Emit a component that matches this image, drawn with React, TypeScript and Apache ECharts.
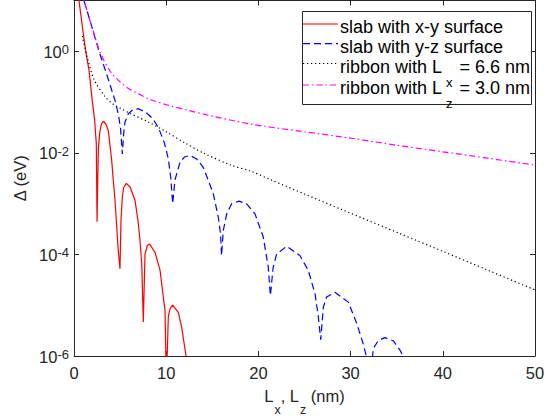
import React, { useEffect, useRef } from "react";
import * as echarts from "echarts";

// slab with x-y surface (L in nm, gap in eV)
const XY_L = [0.4, 0.54, 1.01, 1.27, 1.63, 1.98, 2.24, 2.42, 2.5, 2.58, 2.65, 2.82, 3.0, 3.18, 3.45, 3.72, 4.09, 4.26, 4.45, 4.8, 4.99, 5.1, 5.25, 5.4, 5.68, 6.1, 6.62, 6.95, 7.16, 7.35, 7.52, 7.7, 7.95, 8.2, 8.79, 9.33, 9.69, 9.87, 10.02, 10.23, 10.41, 10.7, 11.31, 11.68, 12.15, 12.4];
const XY_D = [16, 10, 2.2, 1.0, 0.42, 0.107, 0.044, 0.015, 4.4e-4, 3.2e-3, 0.0126, 0.0275, 0.038, 0.042, 0.037, 0.0275, 7.1e-3, 2.9e-3, 1.15e-3, 1.2e-4, 5.2e-5, 5.0e-4, 1.4e-3, 2.1e-3, 2.5e-3, 2.1e-3, 1.15e-3, 4.5e-4, 1.9e-4, 6.3e-5, 4.7e-6, 1.0e-4, 1.5e-4, 1.6e-4, 1.1e-4, 4.9e-5, 1.45e-5, 7.9e-6, 3e-7, 5.9e-6, 8.5e-6, 1.0e-5, 7.2e-6, 3.7e-6, 1.0e-6, 2.5e-7];

// slab with y-z surface
const YZ_L = [0.9, 1.08, 1.74, 2.71, 3.6, 4.45, 4.8, 5.05, 5.24, 5.4, 5.53, 5.89, 6.4, 6.98, 7.8, 8.5, 9.14, 9.8, 10.23, 10.5, 10.7, 10.95, 11.5, 12.0, 12.58, 13.3, 14.02, 15.1, 15.65, 15.9, 16.0, 16.2, 16.56, 17.1, 17.9, 18.7, 19.63, 20.53, 21.07, 21.3, 21.6, 21.98, 23.07, 24.5, 25.4, 26.14, 26.5, 26.76, 27.04, 27.4, 28.3, 29.75, 30.66, 31.38, 31.7, 32.05, 32.46, 33.0, 33.7, 34.63, 35.36, 35.7, 36.1];
const YZ_D = [16, 10, 4.0, 1.0, 0.33, 0.107, 0.059, 0.03, 9.5e-3, 0.025, 0.04, 0.059, 0.071, 0.074, 0.063, 0.048, 0.032, 0.0158, 7.6e-3, 3.2e-3, 1.0e-3, 2.9e-3, 6.6e-3, 8.3e-3, 8.9e-3, 7.6e-3, 5.2e-3, 1.6e-3, 5.4e-4, 2.5e-4, 9.5e-5, 3.0e-4, 6.3e-4, 1.0e-3, 1.12e-3, 1.0e-3, 6.3e-4, 2.2e-4, 5.6e-5, 1.55e-5, 5.6e-5, 1.02e-4, 1.45e-4, 9.5e-5, 4.9e-5, 1.7e-5, 5.9e-6, 2.1e-6, 9.1e-6, 1.45e-5, 1.8e-5, 1.15e-5, 4.4e-6, 1.7e-6, 1.0e-6, 2e-7, 1.4e-6, 2.0e-6, 2.3e-6, 2.0e-6, 1.3e-6, 1.0e-6, 4e-7];

// ribbon with Lx = 6.6 nm
const RX_L = [0.9, 1.44, 2.17, 3.4, 4.26, 5.0, 6.15, 8.0, 10.05, 12.0, 14.0, 17.0, 19.1, 21.44, 25.0, 28.85, 35.36, 40.0, 45.0, 50.0];
const RX_D = [2.0, 0.76, 0.28, 0.126, 0.091, 0.076, 0.059, 0.041, 0.0257, 0.0158, 0.01, 5.75e-3, 4.4e-3, 2.9e-3, 1.55e-3, 7.9e-4, 2.57e-4, 1.15e-4, 4.8e-5, 2.0e-5];

// ribbon with Lz = 3.0 nm
const RZ_L = [0.8, 1.08, 2.17, 2.9, 3.98, 5.0, 6.0, 7.0, 8.4, 10.4, 12.5, 14.4, 19.1, 25, 30, 35, 40, 45, 50];
const RZ_D = [15, 10, 2.2, 0.89, 0.39, 0.25, 0.18, 0.145, 0.11, 0.085, 0.068, 0.056, 0.037, 0.026, 0.0195, 0.0141, 0.0105, 7.8e-3, 5.75e-3];

const SERIES_NAMES = ["slab with x-y surface", "slab with y-z surface", "ribbon with L_x = 6.6 nm", "ribbon with L_z = 3.0 nm"];
const X_TICKS = [0, 10, 20, 30, 40, 50];

const FONT = "'Liberation Sans', Arial, Helvetica, sans-serif";
const AX = "#262626";

const zip = (a: number[], b: number[]) => a.map((v, i) => [v, b[i]]);

export default function App() {
  const ref = useRef<HTMLDivElement>(null);
  useEffect(() => {
    if (!ref.current) return;
    const chart = echarts.init(ref.current, undefined, { renderer: "svg" });
    const colors = ["#ff0000", "#0000ff", "#000000", "#ff00ff"];
    const dashes: any[] = ["solid", [7, 4], [1.2, 2.8], [6, 3, 1.5, 3]];
    const smooths = [false, false, 0.3, 0.3];
    const datasets = [zip(XY_L, XY_D), zip(YZ_L, YZ_D), zip(RX_L, RX_D), zip(RZ_L, RZ_D)];
    const legendRows = [24, 43.7, 63.5, 85];
    const legendTexts = [
      "{n|slab with x-y surface}",
      "{n|slab with y-z surface}",
      "{n|ribbon with L}{s|x}{n| = 6.6 nm}",
      "{n|ribbon with L}{s|z}{n| = 3.0 nm}",
    ];
    const legRich = {
      n: { fontSize: 18, fontFamily: FONT, lineHeight: 18, verticalAlign: "top", color: "#000" },
      s: { fontSize: 13, fontFamily: FONT, lineHeight: 31, verticalAlign: "bottom", color: "#000", padding: [0, 2, 0, 4] },
    };
    const graphic: any[] = [
      {
        type: "rect",
        z: 100,
        shape: { x: 302.5, y: 11.5, width: 229, height: 93 },
        style: { fill: "#fff", stroke: AX, lineWidth: 1 },
      },
    ];
    legendRows.forEach((y, i) => {
      graphic.push({
        type: "line",
        z: 101,
        shape: { x1: 303, y1: y, x2: 338, y2: y },
        style: { stroke: colors[i], lineWidth: 1.2, lineDash: dashes[i] === "solid" ? null : dashes[i] },
      });
      graphic.push({
        type: "text",
        z: 101,
        x: 340,
        y: y - 6,
        style: { text: legendTexts[i], rich: legRich, align: "left", verticalAlign: "top", fill: "#000" },
      });
    });

    const yLabelRich = {
      b: { fontSize: 16.5, fontFamily: FONT, lineHeight: 24, verticalAlign: "top", color: AX },
      s: { fontSize: 13, fontFamily: FONT, lineHeight: 12, verticalAlign: "top", color: AX },
    };
    const yFmt = (v: number) => {
      const e = Math.round(Math.log10(v));
      return `{b|10}{s|${e}}`;
    };
    const commonX = {
      type: "value",
      min: 0,
      max: 50,
      interval: 10,
      splitLine: { show: false },
      axisLine: { show: true, onZero: false, lineStyle: { color: AX, width: 1 } },
      axisTick: { show: true, inside: true, length: 5, lineStyle: { color: AX } },
    };
    const commonY = {
      type: "log",
      logBase: 10,
      min: 1e-6,
      max: 10,
      interval: 2,
      splitLine: { show: false },
      minorTick: { show: false },
      axisLine: { show: true, onZero: false, lineStyle: { color: AX, width: 1 } },
      axisTick: { show: true, inside: true, length: 5, lineStyle: { color: AX } },
    };
    chart.setOption({
      animation: false,
      backgroundColor: "#fff",
      grid: { left: 74, right: 19, top: 0.5, bottom: 60, containLabel: false, outerBoundsMode: "none" },
      xAxis: [
        {
          ...commonX,
          position: "bottom",
          axisLabel: {
            color: AX,
            fontSize: 16.5,
            fontFamily: FONT,
            margin: 8,
            showMinLabel: true,
            showMaxLabel: true,
            formatter: (v: number) => (X_TICKS.includes(v) ? String(v) : ""),
          },
          name: "{n|L}{s|x}{n|, L}{s|z}{n| (nm)}",
          nameLocation: "middle",
          nameGap: 31,
          nameTextStyle: {
            rich: {
              n: { fontSize: 16.5, fontFamily: FONT, lineHeight: 16, verticalAlign: "top", color: AX },
              s: { fontSize: 12.5, fontFamily: FONT, lineHeight: 29, verticalAlign: "bottom", color: AX, padding: [0, 0, 0, 1] },
            },
          },
        },
        { ...commonX, position: "top", axisLabel: { show: false } },
      ],
      yAxis: [
        {
          ...commonY,
          position: "left",
          axisLabel: {
            color: AX,
            margin: 5,
            formatter: yFmt,
            rich: yLabelRich,
            padding: [8, 0, 0, 0],
            showMaxLabel: false,
          },
          name: "Δ (eV)",
          nameLocation: "middle",
          nameGap: 29,
          nameTextStyle: { fontSize: 16.5, fontFamily: FONT, color: AX },
        },
        { ...commonY, position: "right", axisLabel: { show: false } },
      ],
      series: datasets.map((d, i) => ({
        name: SERIES_NAMES[i],
        type: "line",
        data: d,
        xAxisIndex: 0,
        yAxisIndex: 0,
        symbol: "none",
        clip: true,
        smooth: smooths[i],
        lineStyle: { color: colors[i], width: 1.2, type: dashes[i] },
        itemStyle: { color: colors[i] },
      })),
      graphic,
    });
    return () => chart.dispose();
  }, []);
  return <div ref={ref} style={{ position: "fixed", left: 0, top: 0, width: 554, height: 416, background: "#fff" }} />;
}
